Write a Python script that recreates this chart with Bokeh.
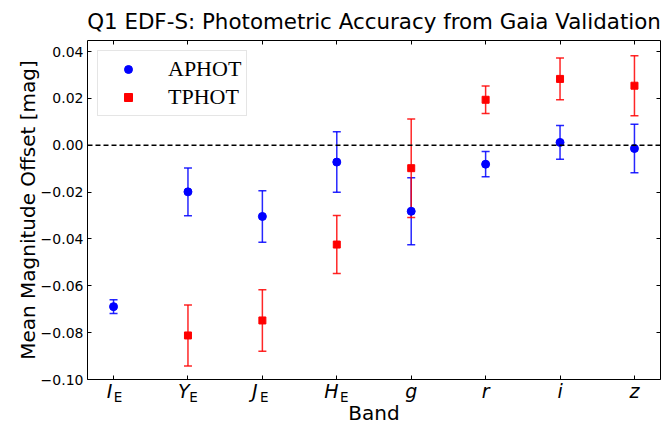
from bokeh.plotting import figure
from bokeh.models import (ColumnDataSource, Whisker, TeeHead, Span, Legend, LegendItem,
                          FixedTicker, CustomJSTickFormatter, LinearAxis, Range1d)
from bokeh.embed import file_html
from bokeh.resources import INLINE

# ---------------- data ----------------
bands = ["I", "Y", "J", "H", "g", "r", "i", "z"]
band_subscripts = ["E", "E", "E", "E", "", "", "", ""]

aphot_bands = ["I", "Y", "J", "H", "g", "r", "i", "z"]
aphot_mean = [-0.0689, -0.0199, -0.0304, -0.0072, -0.0282, -0.0081, 0.0012, -0.0014]
aphot_err = [0.0029, 0.0102, 0.0110, 0.0129, 0.0143, 0.0054, 0.0072, 0.0103]

tphot_bands = ["Y", "J", "H", "g", "r", "i", "z"]
tphot_mean = [-0.0812, -0.0748, -0.0424, -0.0098, 0.0194, 0.0283, 0.0254]
tphot_err = [0.0130, 0.0131, 0.0124, 0.0210, 0.0059, 0.0089, 0.0128]

y_ticks = [-0.10, -0.08, -0.06, -0.04, -0.02, 0.00, 0.02, 0.04]
y_min, y_max = -0.10, 0.0447

title_text = "Q1 EDF-S: Photometric Accuracy from Gaia Validation"
x_label = "Band"
y_label = "Mean Magnitude Offset [mag]"

# ---------------- layout / style constants ----------------
X_PAD = 0.35
FRAME_W = 664 - 87 - 4
PX_PER_BAND = FRAME_W / (len(bands) - 1 + 2 * X_PAD)
# per-label horizontal nudges (screen px) so letter + subscript sit centred on the tick
letter_nudge_px = [-4.1, -4.1, -7.5, -5.4, 0, 0, 0, 0]
sub_nudge_px = [4.5, 5.5, 2.0, 7.5, 0, 0, 0, 0]

band_pos = list(range(len(bands)))
x_a = [bands.index(b) for b in aphot_bands]
x_t = [bands.index(b) for b in tphot_bands]
letter_pos = [i + n / PX_PER_BAND for i, n in zip(band_pos, letter_nudge_px)]
sub_pos = [i + n / PX_PER_BAND for i, n, s in zip(band_pos, sub_nudge_px, band_subscripts) if s]

p = figure(width=664, height=427,
           x_range=Range1d(-X_PAD, len(bands) - 1 + X_PAD),
           y_range=Range1d(y_min, y_max),
           output_backend="svg", toolbar_location=None,
           min_border_left=87, min_border_right=4, min_border_top=40, min_border_bottom=40)
p.background_fill_color = "white"
p.border_fill_color = "white"
p.outline_line_color = "black"
p.outline_line_width = 1
p.grid.visible = False

p.title.text = title_text
p.title.align = "center"
p.title.text_font = "DejaVu Sans"
p.title.text_font_size = "21.4px"
p.title.text_font_style = "normal"
p.title.text_color = "black"
p.title.standoff = 13

empty_fmt = CustomJSTickFormatter(code="return '';")
yfmt = CustomJSTickFormatter(code="""
    const s = Math.abs(tick) < 1e-9 ? '0.00' : tick.toFixed(2);
    return s.replace('-', '\u2212');
""")
letter_fmt = CustomJSTickFormatter(args=dict(labels=bands),
                                   code="return labels[Math.round(tick)];")
sub_fmt = CustomJSTickFormatter(args=dict(labels=band_subscripts),
                                code="return labels[Math.round(tick)];")

# x axis A: tick marks only
for ax in p.xaxis:
    ax.ticker = FixedTicker(ticks=band_pos)
    ax.formatter = empty_fmt
    ax.major_label_standoff = 0
    ax.major_label_text_font_size = "1px"
    ax.major_tick_in = 4
    ax.major_tick_out = 0
    ax.minor_tick_line_color = None
    ax.axis_line_color = None
    ax.major_tick_line_color = "black"

# x axis B: italic band letters
ax_letters = LinearAxis(ticker=FixedTicker(ticks=letter_pos), formatter=letter_fmt,
                        major_tick_line_color=None, major_tick_in=0, major_tick_out=0,
                        minor_tick_line_color=None, axis_line_color=None,
                        major_label_standoff=0, major_label_text_font="DejaVu Sans",
                        major_label_text_font_style="italic",
                        major_label_text_font_size="19px", major_label_text_color="black")
# x axis C: upright subscripts + axis title
ax_subs = LinearAxis(ticker=FixedTicker(ticks=sub_pos), formatter=sub_fmt,
                     major_tick_line_color=None, major_tick_in=0, major_tick_out=0,
                     minor_tick_line_color=None, axis_line_color=None,
                     major_label_standoff=-16, major_label_text_font="DejaVu Sans",
                     major_label_text_font_style="normal",
                     major_label_text_font_size="13.5px", major_label_text_color="black",
                     axis_label=x_label, axis_label_text_font="DejaVu Sans",
                     axis_label_text_font_size="20px", axis_label_text_font_style="normal",
                     axis_label_text_color="black", axis_label_standoff=-7)
p.add_layout(ax_letters, "below")
p.add_layout(ax_subs, "below")

for ax in p.yaxis:
    ax.ticker = FixedTicker(ticks=y_ticks)
    ax.formatter = yfmt
    ax.axis_label = y_label
    ax.axis_label_text_font = "DejaVu Sans"
    ax.axis_label_text_font_size = "20px"
    ax.axis_label_text_font_style = "normal"
    ax.axis_label_text_color = "black"
    ax.axis_label_standoff = -2
    ax.major_label_text_font = "DejaVu Sans"
    ax.major_label_text_font_size = "14px"
    ax.major_label_text_color = "black"
    ax.major_label_standoff = 4
    ax.major_tick_in = 4
    ax.major_tick_out = 0
    ax.minor_tick_line_color = None
    ax.axis_line_color = None
    ax.major_tick_line_color = "black"

top_ax = LinearAxis(ticker=FixedTicker(ticks=band_pos), formatter=empty_fmt,
                    major_tick_in=4, major_tick_out=0, axis_line_color=None,
                    minor_tick_line_color=None, major_label_standoff=0,
                    major_label_text_font_size="1px")
right_ax = LinearAxis(ticker=FixedTicker(ticks=y_ticks), formatter=empty_fmt,
                      major_tick_in=4, major_tick_out=0, axis_line_color=None,
                      minor_tick_line_color=None, major_label_standoff=0,
                      major_label_text_font_size="1px")
p.add_layout(top_ax, "above")
p.add_layout(right_ax, "right")

# zero line
p.add_layout(Span(location=0, dimension="width", line_color="black",
                  line_dash="5 3", line_width=1.5))

# error bars
src_a = ColumnDataSource(dict(x=x_a, y=aphot_mean,
                              lower=[m - e for m, e in zip(aphot_mean, aphot_err)],
                              upper=[m + e for m, e in zip(aphot_mean, aphot_err)]))
src_t = ColumnDataSource(dict(x=x_t, y=tphot_mean,
                              lower=[m - e for m, e in zip(tphot_mean, tphot_err)],
                              upper=[m + e for m, e in zip(tphot_mean, tphot_err)]))

def add_whisker(src, color):
    w = Whisker(source=src, base="x", lower="lower", upper="upper", dimension="height",
                line_color=color, line_width=1.5, line_alpha=0.85,
                upper_head=TeeHead(size=8, line_color=color, line_width=1.5, line_alpha=0.85),
                lower_head=TeeHead(size=8, line_color=color, line_width=1.5, line_alpha=0.85))
    w.level = "underlay"
    p.add_layout(w)

add_whisker(src_a, "blue")
add_whisker(src_t, "red")

ra = p.scatter("x", "y", source=src_a, marker="circle", size=8, color="blue")
rt = p.scatter("x", "y", source=src_t, marker="square", size=7, color="red")

legend = Legend(items=[LegendItem(label="APHOT", renderers=[ra]),
                       LegendItem(label="TPHOT", renderers=[rt])],
                location="top_left", margin=10, padding=5, spacing=2,
                glyph_width=50, glyph_height=20, label_height=20, label_standoff=15,
                label_text_font="Liberation Serif", label_text_font_size="22px",
                label_text_color="black",
                border_line_color="#cccccc", border_line_width=1,
                background_fill_color="white", background_fill_alpha=0.8)
p.add_layout(legend)

open("out.html", "w").write(file_html(p, INLINE))
